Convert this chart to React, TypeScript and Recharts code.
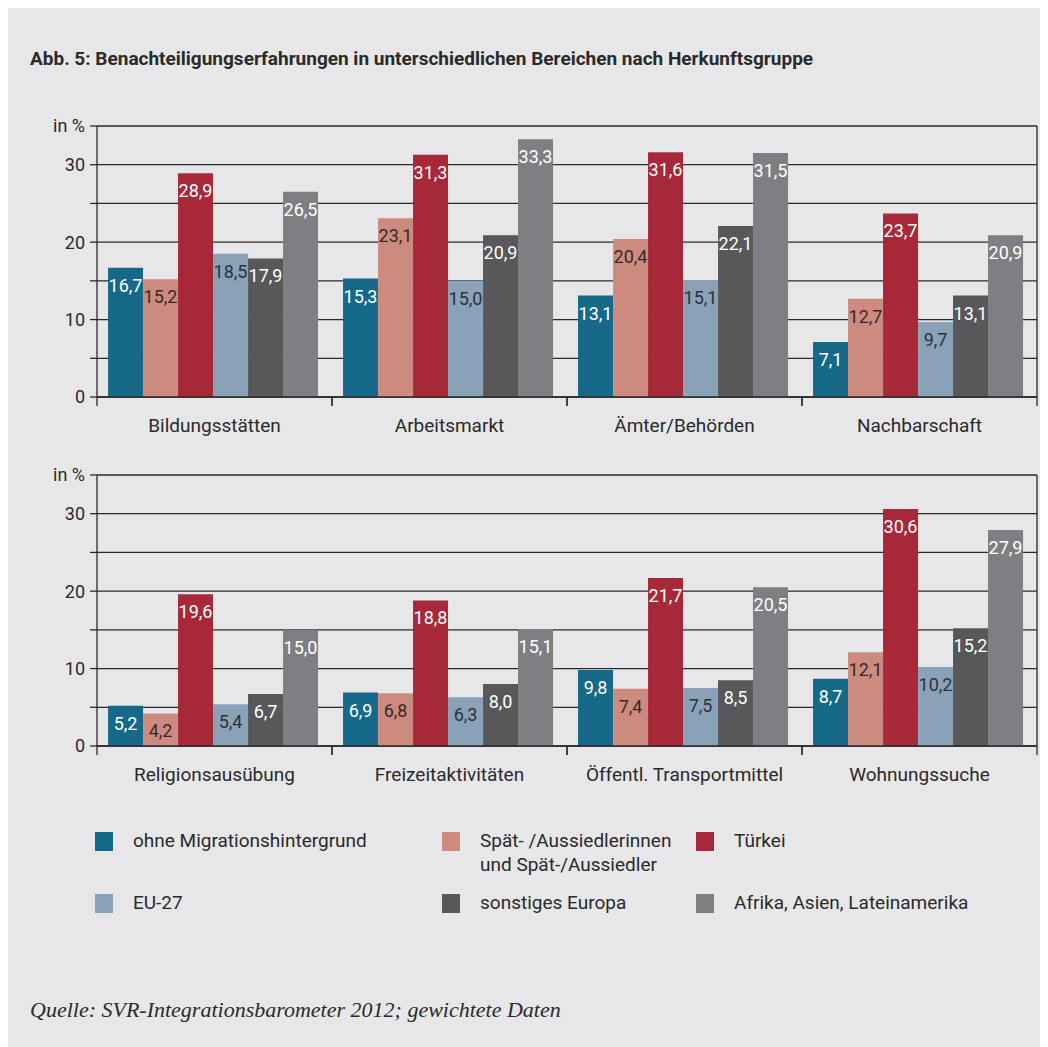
import React from 'react';
import { BarChart, Bar, XAxis, YAxis, CartesianGrid, LabelList } from 'recharts';

// categories of the two panels
const topCategories = ['Bildungsstätten', 'Arbeitsmarkt', 'Ämter/Behörden', 'Nachbarschaft'];
const bottomCategories = ['Religionsausübung', 'Freizeitaktivitäten', 'Öffentl. Transportmittel', 'Wohnungssuche'];

// values in % per origin group, upper panel
const ohneTop = [16.7, 15.3, 13.1, 7.1];
const aussiedlerTop = [15.2, 23.1, 20.4, 12.7];
const tuerkeiTop = [28.9, 31.3, 31.6, 23.7];
const eu27Top = [18.5, 15.0, 15.1, 9.7];
const europaTop = [17.9, 20.9, 22.1, 13.1];
const afrikaTop = [26.5, 33.3, 31.5, 20.9];

// lower panel
const ohneBottom = [5.2, 6.9, 9.8, 8.7];
const aussiedlerBottom = [4.2, 6.8, 7.4, 12.1];
const tuerkeiBottom = [19.6, 18.8, 21.7, 30.6];
const eu27Bottom = [5.4, 6.3, 7.5, 10.2];
const europaBottom = [6.7, 8.0, 8.5, 15.2];
const afrikaBottom = [15.0, 15.1, 20.5, 27.9];

const yTicks = [0, 5, 10, 15, 20, 25, 30, 35];

const SERIES = [
  { key: 'ohne', name: 'ohne Migrationshintergrund', color: '#17698a', text: '#ffffff' },
  { key: 'aussiedler', name: 'Spät- /Aussiedlerinnen\nund Spät-/Aussiedler', color: '#cd8b80', text: '#3a2826' },
  { key: 'tuerkei', name: 'Türkei', color: '#a72838', text: '#ffffff' },
  { key: 'eu27', name: 'EU-27', color: '#8aa2b7', text: '#2b323b' },
  { key: 'europa', name: 'sonstiges Europa', color: '#58585a', text: '#ffffff' },
  { key: 'afrika', name: 'Afrika, Asien, Lateinamerika', color: '#7f7f83', text: '#ffffff' },
];

const buildRows = (cats: string[], cols: number[][]) =>
  cats.map((cat, i) => ({
    cat,
    ohne: cols[0][i],
    aussiedler: cols[1][i],
    tuerkei: cols[2][i],
    eu27: cols[3][i],
    europa: cols[4][i],
    afrika: cols[5][i],
  }));

const topData = buildRows(topCategories, [ohneTop, aussiedlerTop, tuerkeiTop, eu27Top, europaTop, afrikaTop]);
const bottomData = buildRows(bottomCategories, [ohneBottom, aussiedlerBottom, tuerkeiBottom, eu27Bottom, europaBottom, afrikaBottom]);

const INK = '#2a2a2a';
const FONT = "Roboto, 'Open Sans', sans-serif";
const PLOT_W = 940;

const fmt = (v: number) => v.toFixed(1).replace('.', ',');
const fmtTick = (v: number) => (v === 35 ? 'in %' : v % 10 === 0 ? String(v) : '');

const makeLabel = (fill: string) => (props: any) => {
  const { x, y, width, value } = props;
  return (
    <text x={x + width / 2} y={y + 24} textAnchor="middle" fill={fill} fontSize={18} fontFamily={FONT}>
      {fmt(value)}
    </text>
  );
};

const CatTick = (props: any) => {
  const { x, y, payload } = props;
  const half = PLOT_W / 4 / 2;
  return (
    <g>
      <line x1={x - half} x2={x - half} y1={y} y2={y + 9} stroke={INK} strokeWidth={1.3} />
      <line x1={x + half} x2={x + half} y1={y} y2={y + 9} stroke={INK} strokeWidth={1.3} />
      <text x={x} y={y + 35} textAnchor="middle" fill={INK} fontSize={19} fontFamily={FONT}>
        {payload.value}
      </text>
    </g>
  );
};

const Panel = ({ data, top }: { data: any[]; top: number }) => (
  <div style={{ position: 'absolute', left: 0, top }}>
    <BarChart
      width={1040}
      height={330}
      data={data}
      margin={{ top: 10, right: 10, bottom: 0, left: 0 }}
      barCategoryGap="4.7%"
      barGap={0}
    >
      <CartesianGrid vertical={false} stroke={INK} strokeWidth={1.3} />
      <XAxis
        dataKey="cat"
        interval={0}
        height={49}
        tickLine={false}
        tickSize={0}
        tickMargin={0}
        axisLine={{ stroke: INK, strokeWidth: 1.3 }}
        tick={<CatTick />}
      />
      <YAxis
        domain={[0, 35]}
        ticks={yTicks}
        interval={0}
        width={89}
        tickSize={7}
        tickMargin={5}
        tickFormatter={fmtTick}
        tick={{ fill: INK, fontSize: 18, fontFamily: FONT }}
        axisLine={{ stroke: INK, strokeWidth: 1.3 }}
        tickLine={{ stroke: INK, strokeWidth: 1.3 }}
      />
      <YAxis
        yAxisId="r"
        orientation="right"
        domain={[0, 35]}
        width={1}
        tick={false}
        tickLine={false}
        axisLine={{ stroke: INK, strokeWidth: 1.3 }}
      />
      {SERIES.map((s) => (
        <Bar key={s.key} dataKey={s.key} fill={s.color} isAnimationActive={false}>
          <LabelList dataKey={s.key} content={makeLabel(s.text)} />
        </Bar>
      ))}
    </BarChart>
  </div>
);

const legendPos = [
  { x: 87, y: 827 },
  { x: 434, y: 827 },
  { x: 688, y: 827 },
  { x: 87, y: 889 },
  { x: 434, y: 889 },
  { x: 688, y: 889 },
];

const App = () => (
  <div
    style={{
      position: 'relative',
      width: 1040,
      height: 1042,
      marginTop: -3,
      background: '#e7e7e9',
      fontFamily: FONT,
      color: INK,
    }}
  >
    <div style={{ position: 'absolute', left: 22, top: 44, fontSize: 19, lineHeight: '19px', fontWeight: 700, whiteSpace: 'nowrap' }}>
      Abb. 5: Benachteiligungserfahrungen in unterschiedlichen Bereichen nach Herkunftsgruppe
    </div>

    <Panel data={topData} top={111} />
    <Panel data={bottomData} top={460} />

    {SERIES.map((s, i) => (
      <div key={s.key} style={{ position: 'absolute', left: legendPos[i].x, top: legendPos[i].y }}>
        <div style={{ position: 'absolute', left: 0, top: 0, width: 18, height: 19, background: s.color }} />
        <div style={{ position: 'absolute', left: 38, top: -3, fontSize: 19, lineHeight: '24px', whiteSpace: 'pre' }}>
          {s.name}
        </div>
      </div>
    ))}

    <div
      style={{
        position: 'absolute',
        left: 22,
        top: 992,
        fontSize: 22,
        fontStyle: 'italic',
        fontFamily: "'Liberation Serif', 'DejaVu Serif', serif",
        whiteSpace: 'nowrap',
      }}
    >
      Quelle: SVR-Integrationsbarometer 2012; gewichtete Daten
    </div>
  </div>
);

export default App;
